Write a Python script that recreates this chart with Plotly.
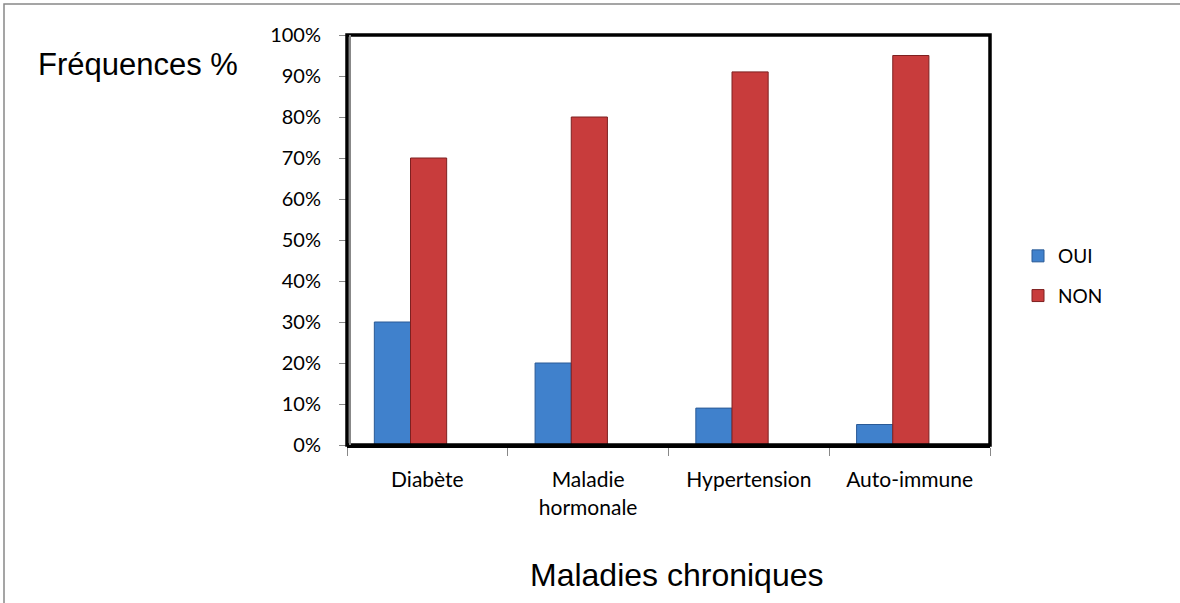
import plotly.graph_objects as go

categories = ["Diabète", "Maladie<br>hormonale", "Hypertension", "Auto-immune"]
oui = [30, 20, 9, 5]
non = [70, 80, 91, 95]
ytick_vals = [0, 10, 20, 30, 40, 50, 60, 70, 80, 90, 100]
ytick_text = [f"{v}%" for v in ytick_vals]

W, H = 1180, 603
L, R, T, B = 347, 190, 35, 158
pw, ph = W - L - R, H - T - B

def px_x(x):
    return (x - L) / pw

def px_y(y):
    return (H - B - y) / ph

fig = go.Figure()
fig.add_trace(go.Bar(
    x=categories, y=oui, name="OUI", legendgroup="oui",
    width=0.225, offset=-0.33,
    marker=dict(color="#4081CC", line=dict(color="#2A5A96", width=1)),
))
fig.add_trace(go.Bar(
    x=categories, y=non, name="NON", legendgroup="non",
    width=0.225, offset=-0.105,
    marker=dict(color="#C83C3C", line=dict(color="#7E2020", width=1)),
))

fig.update_layout(
    width=W, height=H,
    margin=dict(l=L, r=R, t=T, b=B),
    paper_bgcolor="white", plot_bgcolor="white",
    barmode="overlay",
    font=dict(family="Lato, Carlito, Calibri", size=16, color="black"),
    showlegend=True,
    legend=dict(x=px_x(1018), y=px_y(276), xanchor="left", yanchor="middle",
                font=dict(family="Lato, Carlito, Calibri", size=19, color="black"),
                itemwidth=30, tracegroupgap=12, bgcolor="rgba(0,0,0,0)"),
    xaxis=dict(
        type="category", tickson="boundaries",
        showline=True, linecolor="black", linewidth=3,
        ticks="outside", ticklen=8, tickcolor="#888888", tickwidth=1,
        ticklabelstandoff=14,
        tickfont=dict(family="Lato, Carlito, Calibri", size=21, color="black"),
        showgrid=False, zeroline=False,
    ),
    yaxis=dict(
        range=[0, 100], tickvals=ytick_vals, ticktext=ytick_text,
        showline=False,
        ticks="outside", ticklen=7, tickcolor="#888888",
        ticklabelstandoff=14,
        tickfont=dict(family="Lato, Carlito, Calibri", size=20, color="black"),
        showgrid=False, zeroline=False,
    ),
    shapes=[
        dict(type="rect", xref="paper", yref="paper", x0=0, x1=1, y0=0, y1=1,
             line=dict(color="black", width=3.5)),
        dict(type="line", xref="paper", yref="paper", x0=px_x(350), x1=px_x(350), y0=0, y1=1,
             line=dict(color="#888888", width=2)),
        dict(type="rect", xref="paper", yref="paper",
             x0=px_x(4), x1=px_x(1200), y0=px_y(620), y1=px_y(4),
             line=dict(color="#888888", width=1.5)),
    ],
    annotations=[
        dict(text="Fréquences %", xref="paper", yref="paper",
             x=px_x(36), y=px_y(65), xanchor="left", yanchor="middle",
             showarrow=False, font=dict(family="Liberation Sans, Arial", size=31, color="black")),
        dict(text="Maladies chroniques", xref="paper", yref="paper",
             x=px_x(677), y=px_y(575), xanchor="center", yanchor="middle",
             showarrow=False, font=dict(family="Liberation Sans, Arial", size=32, color="black")),
    ],
)

fig.write_html("out.html")
